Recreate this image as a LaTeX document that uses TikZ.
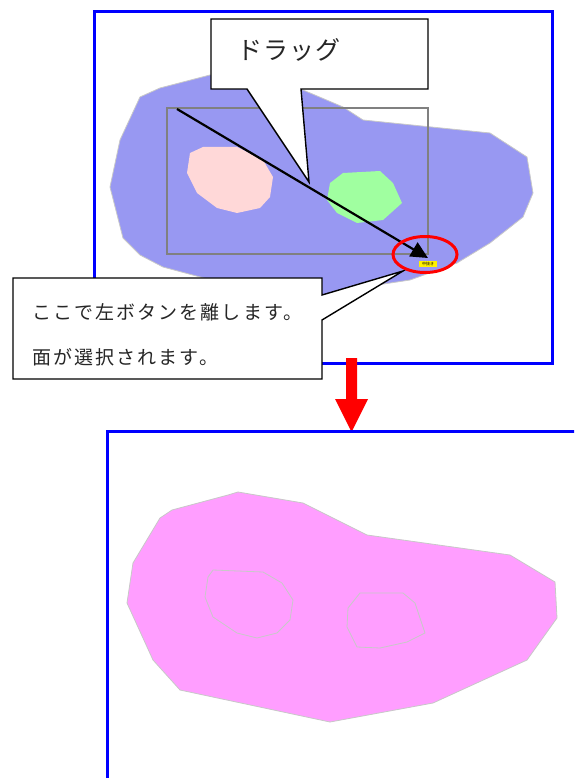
\documentclass[tikz,border=0pt]{standalone}
\usepackage{fontspec}
\newfontfamily\jpbig[LetterSpace=4]{Noto Sans CJK JP}
\newfontfamily\jpmid[LetterSpace=11]{Noto Sans CJK JP}
\newfontfamily\jptiny{Noto Sans CJK JP}
\usetikzlibrary{arrows.meta}
\definecolor{frameblue}{RGB}{0,0,255}
\definecolor{blobblue}{RGB}{152,152,242}
\definecolor{blobpink}{RGB}{255,158,255}
\definecolor{lightpink}{RGB}{255,216,216}
\definecolor{lightgreen}{RGB}{160,255,160}
\definecolor{selgray}{RGB}{128,128,128}
\definecolor{edgegray}{RGB}{200,200,200}
\tikzset{
  frame/.style={draw=frameblue, line width=3pt},
  blob/.style={draw=edgegray, line width=0.8pt},
  callout/.style={draw=black, fill=white, line width=1.4pt, line join=miter},
  calltext/.style={anchor=west, inner sep=0pt, text=black!85},
}
\begin{document}
\begin{tikzpicture}[x=1pt,y=-1pt]
\useasboundingbox (0,0) rectangle (574,778);
\fill[white] (0,0) rectangle (574,778);

% ---- top panel ----
\draw[frame] (94,12) rectangle (552,363);
\path[blob, fill=blobblue] (140,97) -- (160,88) -- (210,75) -- (260,80) -- (303,90) -- (343,107) -- (363,120)
  -- (490,133) -- (527,157) -- (533,193) -- (523,217) -- (490,243) -- (457,263) -- (410,280)
  -- (357,288) -- (310,300) -- (230,285) -- (163,267) -- (140,255) -- (123,238) -- (110,187) -- (120,140) -- cycle;
\fill[lightpink] (190,153) -- (203,147) -- (237,147) -- (263,160) -- (273,177) -- (270,197) -- (260,208)
  -- (237,213) -- (217,208) -- (197,193) -- (187,173) -- cycle;
\fill[lightgreen] (330,183) -- (343,173) -- (380,171) -- (393,183) -- (402,203) -- (383,220) -- (357,223)
  -- (337,213) -- (327,200) -- cycle;
\draw[selgray, line width=1.5pt] (167,108) rectangle (428,254);

\draw[callout] (211,19) -- (428,19) -- (428,89) -- (301,89) -- (309,182) -- (247,89) -- (211,89) -- cycle;
\node[calltext] (dragtext) at (237,50) {\jpbig\fontsize{25}{28}\selectfont ドラッグ};

\coordinate (dragstart) at (177,109);
\coordinate (dragend) at (428,258);
\draw[line width=2.2pt, -{Triangle[length=17pt,width=16pt]}] (dragstart) -- (dragend);

\draw[callout] (13,278) -- (322,278) -- (322,295) -- (403,271) -- (322,320) -- (322,379) -- (13,379) -- cycle;
\node[calltext] (line1) at (32,312) {\jpmid\fontsize{19}{22}\selectfont ここで左ボタンを離します。};
\node[calltext] (line2) at (32,357) {\jpmid\fontsize{19}{22}\selectfont 面が選択されます。};

\draw[red, line width=3pt] (425,254.5) ellipse [x radius=32, y radius=18];
\node[fill=yellow, inner sep=0pt, minimum width=18pt, minimum height=6pt] (cursorlabel) at (428,264)
  {\jptiny\fontsize{4}{4}\selectfont 中抜き};

% ---- red arrow ----
\fill[red] (346,358) -- (357,358) -- (357,399) -- (368,399) -- (351.5,432) -- (335,399) -- (346,399) -- cycle;

% ---- bottom panel ----
\begin{scope}
\clip (0,0) rectangle (574,778);
\draw[frame] (107,790) -- (107,431) -- (580,431);
\end{scope}
\path[blob, fill=blobpink] (238,492) -- (303,503) -- (367,535) -- (510,555) -- (555,582) -- (557,618)
  -- (527,660) -- (433,703) -- (330,722) -- (180,690) -- (153,660) -- (127,603) -- (133,563)
  -- (160,518) -- (172,510) -- (228,495) -- cycle;
\draw[edgegray, line width=0.8pt] (213,570) -- (263,572) -- (282,583) -- (293,600) -- (290,620) -- (277,633)
  -- (257,638) -- (237,633) -- (213,617) -- (205,597) -- (208,577) -- cycle;
\draw[edgegray, line width=0.8pt] (360,593) -- (403,593) -- (415,603) -- (425,633) -- (407,642) -- (380,648)
  -- (357,647) -- (347,627) -- (348,608) -- cycle;
\end{tikzpicture}
\end{document}
